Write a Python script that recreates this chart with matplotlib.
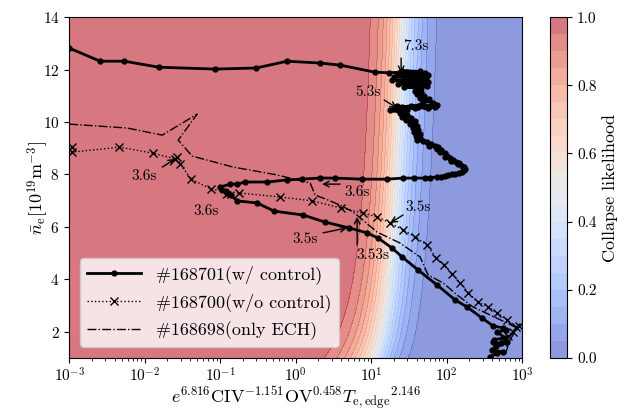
import numpy as np
import matplotlib
matplotlib.use('Agg')
import matplotlib.pyplot as plt

plt.rcParams['font.family'] = 'serif'
plt.rcParams['font.serif'] = ['cmr10']
plt.rcParams['mathtext.fontset'] = 'cm'
plt.rcParams['axes.formatter.use_mathtext'] = True

# --- data ---
# shot 168701, with control
x_701 = [0.001, 0.00257, 0.0054, 0.0155, 0.086, 0.30, 0.77, 2.1, 3.9, 11.3, 17.0, 24.22,
         # noisy phase around 7.3s
         26, 44, 30, 52, 22, 40, 56, 34, 20, 47, 28, 54, 38, 19, 45, 25, 57, 36, 23, 50,
         31, 42, 55, 27, 46, 40,
         # around 5.3s
         38, 46, 40, 50, 44, 58, 48, 66, 75, 60, 70, 52, 42, 56, 34, 46, 26, 38, 22, 30,
         18, 26, 20,
         24, 30, 26, 34, 29, 38, 33, 40, 36, 42, 37, 44, 39, 45, 40, 48,
         55, 62, 58, 70, 78, 74, 85, 82, 95, 100, 96, 110, 120, 116, 132, 145, 140, 158,
         168, 175, 170,
         160, 145, 130, 118, 105, 95, 85, 75, 60.0, 52.0, 36.5,
         # back towards the collapse region
         26.5, 16.3, 7.6, 3.34, 2.1, 1.22, 0.77, 0.42, 0.214, 0.168, 0.136, 0.10, 0.105, 0.124,
         0.118, 0.14, 0.168, 0.309, 0.519, 1.26, 2.46, 5.1, 8.85, 12.4, 19.0, 25.8, 42.0, 74.8,
         130.0, 187.0, 295.0, 413.0, 560.0, 620.0, 466.0, 595.0, 430.0, 413.0, 520.0, 640.0,
         450.0, 401.0, 560.0, 470.0, 377.0]
y_701 = [12.82, 12.32, 12.32, 12.09, 12.02, 12.06, 12.32, 12.25, 12.17, 11.90, 11.88, 11.90,
         11.96, 11.93, 11.90, 11.87, 11.84, 11.82, 11.79, 11.76, 11.73, 11.70, 11.68, 11.65,
         11.62, 11.60, 11.57, 11.54, 11.52, 11.49, 11.46, 11.44, 11.41, 11.38, 11.36, 11.33,
         11.30, 11.27,
         11.20, 11.14, 11.06, 11.00, 10.93, 10.86, 10.80, 10.74, 10.66, 10.62, 10.58, 10.62,
         10.56, 10.52, 10.60, 10.66, 10.58, 10.52, 10.62, 10.46, 10.44, 10.40, 10.48,
         10.34, 10.28, 10.20, 10.14, 10.08, 10.02, 9.94, 9.86, 9.78, 9.70, 9.62, 9.54, 9.46,
         9.38, 9.32, 9.26,
         9.22, 9.16, 9.10, 9.10, 9.04, 8.96, 8.92, 8.84, 8.80, 8.72, 8.66, 8.62, 8.56, 8.50,
         8.48, 8.44, 8.38, 8.34, 8.28, 8.22, 8.16,
         8.10, 8.07, 8.03, 8.00, 7.97, 7.95, 7.92, 7.90, 7.88, 7.86, 7.86,
         7.86, 7.82, 7.82, 7.86, 7.86, 7.82, 7.79, 7.71, 7.71, 7.63, 7.63, 7.52, 7.42, 7.29,
         7.35, 7.20, 6.99, 6.91, 6.60, 6.45, 6.18, 5.96, 5.77, 5.57, 5.19, 4.85, 4.35, 3.78,
         3.21, 2.94, 2.52, 2.22, 2.14, 2.05, 1.99, 1.76, 1.70, 1.61, 1.55, 1.60,
         1.45, 1.30, 1.23, 1.18, 1.04]

# shot 168700, without control
x_700 = [0.0011, 0.0011, 0.00459, 0.013, 0.0254, 0.0269, 0.0295, 0.0413, 0.076, 0.179, 0.623,
         1.655, 4.0, 7.8, 12.0, 17.9, 26.5, 38.3, 55.2, 72.6, 92.7, 118.0, 151.0, 193.0, 261.0,
         355.0, 466.0, 633.0, 833.0, 900.0, 760.0, 650.0, 560.0]
y_700 = [9.04, 8.85, 9.04, 8.81, 8.59, 8.68, 8.40, 7.82, 7.44, 7.29, 7.14,
         6.99, 6.72, 6.53, 6.38, 6.15, 5.88, 5.61, 5.31, 4.81, 4.55, 4.20, 3.86, 3.48, 3.13,
         2.94, 2.72, 2.45, 2.18, 2.20, 2.00, 1.85, 1.60]

# shot 168698, only ECH
x_698 = [0.001, 0.00586, 0.0171, 0.0496, 0.0278, 0.0426, 0.149, 0.569, 1.56, 1.81, 2.31, 3.88,
         5.77, 12.0, 24.2, 44.6, 56.9, 89.9, 138.0, 224.0, 377.0, 633.0, 859.0, 693.0, 595.0]
y_698 = [9.92, 9.77, 9.50, 10.30, 9.31, 8.70, 8.28, 7.98, 7.67, 7.21, 7.10, 6.83,
         6.57, 5.80, 5.38, 4.85, 4.16, 3.86, 3.40, 2.94, 2.64, 2.33, 2.14, 1.69, 1.11]

labels = ['#168701(w/ control)', '#168700(w/o control)', '#168698(only ECH)']

# (text, text x, text y, arrow tail, arrow head)
notes = [
    ('7.3s', 39.4, 12.89, (25.0, 12.44), (25.0, 11.87)),
    ('5.3s', 9.12, 11.14, (14.9, 10.84), (22.1, 10.53)),
    ('3.6s', 0.00985, 7.94, (0.0171, 8.28), (0.0254, 8.59)),
    ('3.6s', 0.0653, 6.60, (0.110, 7.10), (0.144, 7.33)),
    ('3.6s', 6.53, 7.33, (3.88, 7.63), (2.24, 7.63)),
    ('3.5s', 1.34, 5.54, (2.31, 5.77), (4.81, 5.96)),
    ('3.53s', 10.6, 4.93, (6.53, 5.31), (6.53, 6.38)),
    ('3.5s', 42.0, 6.76, (26.5, 6.45), (17.9, 6.15)),
]

# collapse-likelihood model for the background (logistic in log10 x)
c0, c1 = 1.03, 0.144          # centre of the 50% line vs ln(n)
hw_blue = 0.46                 # half width (decades) down to 5%
hw_red0, hw_red1 = 0.42, 0.23  # half width up to 95%, widens at low density


def likelihood(x, n):
    d = c0 + c1 * np.log(n) - np.log10(x)
    hw_red = hw_red0 + hw_red1 * np.exp(-(n - 1) / 2.0)
    hw = np.where(d > 0, hw_red, hw_blue)
    return 1.0 / (1.0 + np.exp(-2.944 * d / hw))


fig = plt.figure(figsize=(6.29, 4.09), dpi=100)
ax = fig.add_axes([0.110, 0.125, 0.720, 0.833])
cax = fig.add_axes([0.874, 0.125, 0.028, 0.833])

gx = np.logspace(-3, 3, 500)
gy = np.linspace(1, 14, 300)
GX, GY = np.meshgrid(gx, gy)
P = likelihood(GX, GY)
cf = ax.contourf(GX, GY, P, levels=np.linspace(0, 1, 21), cmap='coolwarm', alpha=0.6)

ax.plot(x_701, y_701, '-', color='black', lw=2.0, marker='o', ms=3.5, label=labels[0])
ax.plot(x_700, y_700, ':', color='black', lw=1.0, marker='x', ms=6, mew=1.0, label=labels[1])
ax.plot(x_698, y_698, '-.', color='black', lw=1.0, label=labels[2])

for txt, tx, ty, tail, head in notes:
    ax.annotate('', xy=head, xytext=tail,
                arrowprops=dict(arrowstyle='->', color='black', lw=1.0, shrinkA=0, shrinkB=0))
    ax.text(tx, ty, txt, fontsize=11, ha='center', va='center')

ax.set_xscale('log')
ax.set_xlim(1e-3, 1e3)
ax.set_ylim(1, 14)
ax.set_yticks([2, 4, 6, 8, 10, 12, 14])
ax.tick_params(labelsize=11)
ax.tick_params(axis='x', pad=2.5)
ax.set_xlabel(r'$e^{6.816}\mathrm{CIV}^{-1.151}\mathrm{OV}^{0.458}{T_{\mathrm{e,edge}}}^{2.146}$',
              fontsize=13, labelpad=0)
ax.set_ylabel(r'$\bar{n}_{\mathrm{e}}[10^{19}\mathrm{m}^{-3}]$', fontsize=13)
ax.yaxis.set_label_coords(-0.04, 0.5)

leg = ax.legend(loc='lower left', fontsize=13, handlelength=3.0, framealpha=0.8,
                borderaxespad=0.6)

cb = fig.colorbar(cf, cax=cax, ticks=[0.0, 0.2, 0.4, 0.6, 0.8, 1.0])
cb.ax.tick_params(labelsize=11)
cb.ax.set_yticklabels(['0.0', '0.2', '0.4', '0.6', '0.8', '1.0'])
cb.set_label('Collapse likelihood', fontsize=13)

fig.savefig('out.png', dpi=100)
